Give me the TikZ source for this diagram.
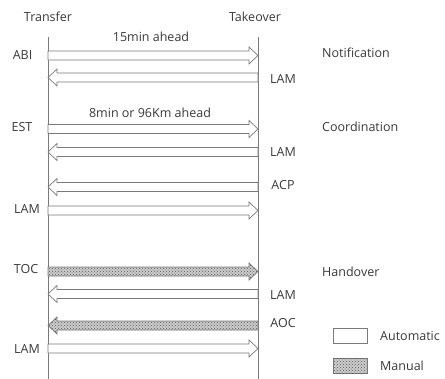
\documentclass[tikz,border=0pt]{standalone}
\usepackage{fontspec}
\setmainfont{Open Sans}
\usetikzlibrary{patterns}
\definecolor{ln}{HTML}{7A7A7A}
\definecolor{tx}{HTML}{3A3A3A}
\definecolor{mfill}{HTML}{CCCCCC}
\tikzset{
  lbl/.style={font=\fontsize{12.5}{15}\selectfont, text=tx, inner sep=0pt},
  lifeline/.style={draw=ln, line width=0.7pt},
  autoarr/.style={draw=ln, line width=0.7pt, fill=white},
  manarr/.style={draw=ln, line width=0.7pt, fill=mfill,
    postaction={pattern=crosshatch dots, pattern color=gray!70!black}},
}
\newcommand\arrR[3]{\draw[#1] ([yshift=4.5pt]#2) -- ([xshift=-9pt,yshift=4.5pt]#3) -- ([xshift=-9pt,yshift=8.5pt]#3) -- (#3) -- ([xshift=-9pt,yshift=-8.5pt]#3) -- ([xshift=-9pt,yshift=-4.5pt]#3) -- ([yshift=-4.5pt]#2) -- cycle;}
\newcommand\arrL[3]{\draw[#1] ([yshift=4.5pt]#2) -- ([xshift=9pt,yshift=4.5pt]#3) -- ([xshift=9pt,yshift=8.5pt]#3) -- (#3) -- ([xshift=9pt,yshift=-8.5pt]#3) -- ([xshift=9pt,yshift=-4.5pt]#3) -- ([yshift=-4.5pt]#2) -- cycle;}
\begin{document}
\begin{tikzpicture}[x=1pt,y=-1pt]
\clip (0,0) rectangle (445,378);
\fill[white] (0,0) rectangle (445,378);
% lifelines
\coordinate (ltop) at (48,37);
\coordinate (lbot) at (48,380);
\coordinate (rtop) at (258,37);
\coordinate (rbot) at (258,380);
\draw[lifeline] (ltop) -- (lbot);
\draw[lifeline] (rtop) -- (rbot);
\node[lbl] (transfer) at (48,17) {Transfer};
\node[lbl] (takeover) at (255,17) {Takeover};
% message rows
\foreach \n/\y in {1/55.5,2/77.5,3/129,4/152,5/187,6/210.5,7/271.5,8/294,9/325.5,10/348.5}{
  \coordinate (L\n) at (48,\y);
  \coordinate (R\n) at (258,\y);
}
\arrR{autoarr}{L1}{R1}
\arrL{autoarr}{R2}{L2}
\arrR{autoarr}{L3}{R3}
\arrL{autoarr}{R4}{L4}
\arrL{autoarr}{R5}{L5}
\arrR{autoarr}{L6}{R6}
\arrR{manarr}{L7}{R7}
\arrL{autoarr}{R8}{L8}
\arrL{manarr}{R9}{L9}
\arrR{autoarr}{L10}{R10}
% texts
\node[lbl] (t15) at (151,37) {15min ahead};
\node[lbl] (t8) at (150,113) {8min or 96Km ahead};
\node[lbl] (abi) at (22.5,55) {ABI};
\node[lbl] (est) at (22,127) {EST};
\node[lbl] (lam1) at (27,209) {LAM};
\node[lbl] (toc) at (26,269) {TOC};
\node[lbl] (lam2) at (27,349) {LAM};
\node[lbl] (lamr1) at (283,79) {LAM};
\node[lbl] (lamr2) at (283,152) {LAM};
\node[lbl] (acp) at (283,185) {ACP};
\node[lbl] (lamr3) at (283,295) {LAM};
\node[lbl] (aoc) at (283,323) {AOC};
\node[lbl, anchor=west] (notif) at (322,53) {Notification};
\node[lbl, anchor=west] (coord) at (322,127) {Coordination};
\node[lbl, anchor=west] (hand) at (322,272) {Handover};
% legend
\draw[autoarr] (333,328) rectangle (367,343);
\node[lbl, anchor=west] (autot) at (380,335.5) {Automatic};
\draw[manarr] (333,358) rectangle (367,373);
\node[lbl, anchor=west] (mant) at (380,365.5) {Manual};
\end{tikzpicture}
\end{document}
